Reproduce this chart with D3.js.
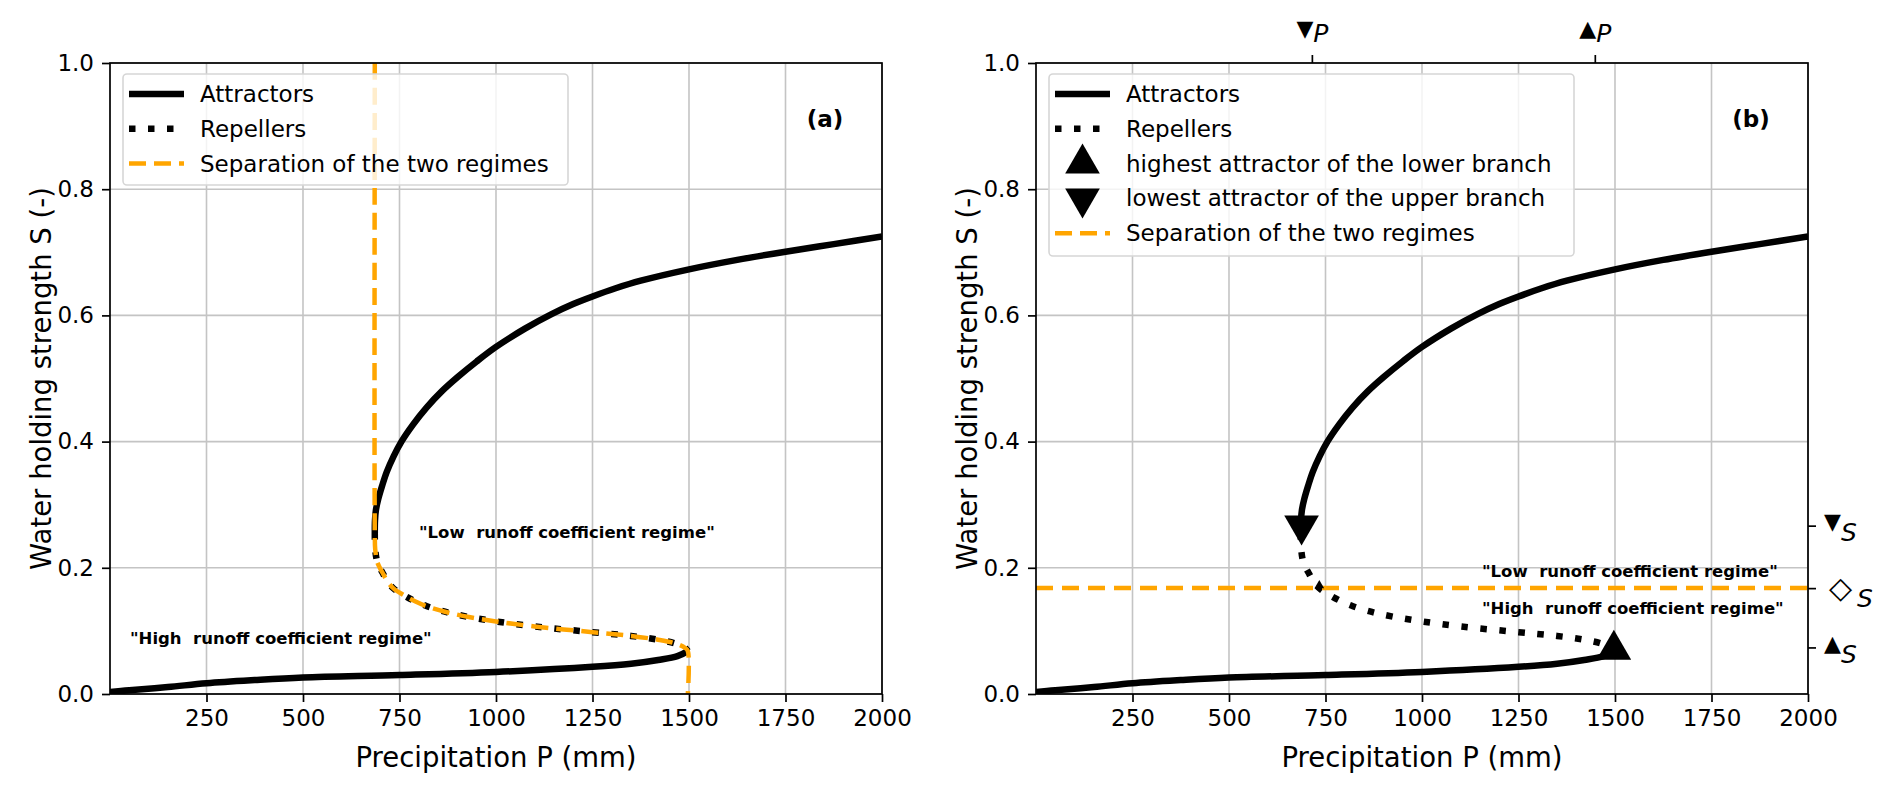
<!DOCTYPE html>
<html>
<head>
<meta charset="utf-8">
<script src="https://cdn.jsdelivr.net/npm/d3@7"></script>
<style>
  body { margin: 0; background: #fff; }
  svg text { font-family: "DejaVu Sans", sans-serif; fill: #000; }
</style>
</head>
<body>
<svg id="chart" width="1892" height="791"></svg>
<script>
// data: precipitation P (mm) vs water holding strength S (-)
var upperAttractor = [[686,0.255],[686.5,0.275],[689,0.292],[695,0.309],[705,0.33],[717,0.352],[735,0.377],[755,0.40],
                      [785,0.427],[820,0.454],[860,0.48],[900,0.502],[950,0.527],[1000,0.55],[1075,0.579],[1144,0.602],
                      [1200,0.618],[1250,0.63],[1310,0.643],[1375,0.655],[1500,0.673],[1625,0.688],[1750,0.701],
                      [1875,0.713],[2000,0.725]];
var repeller = [[686,0.255],[687,0.23],[692,0.21],[699,0.2],[708,0.19],[720,0.177],[735,0.167],[760,0.157],[790,0.147],
                [821,0.139],[870,0.13],[930,0.122],[1000,0.115],[1100,0.107],[1250,0.098],[1350,0.092],[1420,0.086],
                [1465,0.08],[1490,0.073],[1497,0.068]];
var lowerAttractor = [[0,0.003],[50,0.006],[150,0.011],[250,0.017],[375,0.022],[500,0.026],[750,0.030],[1000,0.035],
                      [1250,0.043],[1350,0.048],[1420,0.054],[1470,0.06],[1497,0.068]];
var separationA = [[686,1.0],[686,0.255]].concat(repeller.slice(1)).concat([[1497,0.0]]);
var separationB = [[0,0.168],[2000,0.168]];
var lowestUpper = [688, 0.267];
var highestLower = [1497, 0.07];
var crossing = [734, 0.172];
var xTicks = [250, 500, 750, 1000, 1250, 1500, 1750, 2000];
var yTicks = [0.0, 0.2, 0.4, 0.6, 0.8, 1.0];
var topTicks = [716, 1449];
var topTickLabels = ["\u25BC", "\u25B2"];
var rightTicks = [0.266, 0.167, 0.073];
var rightTickLabels = ["\u25BC", "\u25C7", "\u25B2"];
var legendA = ["Attractors", "Repellers", "Separation of the two regimes"];
var legendB = ["Attractors", "Repellers", "highest attractor of the lower branch",
               "lowest attractor of the upper branch", "Separation of the two regimes"];

var ORANGE = "#ffa500";
var DOTS = "6.5,12.5";
var svg = d3.select("#chart");

function panel(left, tag, isB) {
    var top = 63, bottom = 694, w = 772;
    var x = d3.scaleLinear().domain([0, 2000]).range([left, left + w]);
    var y = d3.scaleLinear().domain([0, 1]).range([bottom, top]);
    var g = svg.append("g");

    // grid
    g.selectAll(".gx").data(xTicks).enter().append("line")
        .attr("x1", d => x(d)).attr("x2", d => x(d)).attr("y1", top).attr("y2", bottom)
        .attr("stroke", "#c4c4c4").attr("stroke-width", 1.6);
    g.selectAll(".gy").data(yTicks).enter().append("line")
        .attr("x1", left).attr("x2", left + w).attr("y1", d => y(d)).attr("y2", d => y(d))
        .attr("stroke", "#c4c4c4").attr("stroke-width", 1.6);

    var line = d3.line().x(d => x(d[0])).y(d => y(d[1])).curve(d3.curveCatmullRom.alpha(0.5));
    var clip = "clip" + tag;
    svg.append("clipPath").attr("id", clip).append("rect")
        .attr("x", left).attr("y", top).attr("width", w).attr("height", bottom - top);
    var plot = g.append("g").attr("clip-path", "url(#" + clip + ")");

    plot.append("path").attr("d", line(lowerAttractor)).attr("fill", "none")
        .attr("stroke", "#000").attr("stroke-width", 6.5);
    plot.append("path").attr("d", line(upperAttractor)).attr("fill", "none")
        .attr("stroke", "#000").attr("stroke-width", 6.5);
    plot.append("path").attr("d", line(repeller)).attr("fill", "none")
        .attr("stroke", "#000").attr("stroke-width", 6.5).attr("stroke-dasharray", DOTS);

    if (!isB) {
        plot.append("path").attr("d", line(separationA)).attr("fill", "none")
            .attr("stroke", ORANGE).attr("stroke-width", 4.5).attr("stroke-dasharray", "17,8");
    } else {
        plot.append("path").attr("d", d3.line().x(d => x(d[0])).y(d => y(d[1]))(separationB))
            .attr("fill", "none").attr("stroke", ORANGE).attr("stroke-width", 4.5)
            .attr("stroke-dasharray", "17,9");
        plot.append("path").attr("d", d3.symbol().type(d3.symbolTriangle).size(520)())
            .attr("transform", "translate(" + x(lowestUpper[0]) + "," + y(lowestUpper[1]) + ") rotate(180)");
        plot.append("path").attr("d", d3.symbol().type(d3.symbolTriangle).size(520)())
            .attr("transform", "translate(" + x(highestLower[0]) + "," + y(highestLower[1]) + ")");
        plot.append("path").attr("d", d3.symbol().type(d3.symbolTriangle).size(40)())
            .attr("transform", "translate(" + x(crossing[0]) + "," + y(crossing[1]) + ")");
    }

    // spines
    g.append("rect").attr("x", left).attr("y", top).attr("width", w).attr("height", bottom - top)
        .attr("fill", "none").attr("stroke", "#000").attr("stroke-width", 1.7);

    // axes
    var ax = g.append("g").attr("transform", "translate(0," + bottom + ")")
        .call(d3.axisBottom(x).tickValues(xTicks).tickSize(8).tickPadding(8).tickFormat(d3.format("d")));
    var ay = g.append("g").attr("transform", "translate(" + left + ",0)")
        .call(d3.axisLeft(y).tickValues(yTicks).tickSize(8).tickPadding(8).tickFormat(d3.format(".1f")));
    [ax, ay].forEach(function(a) {
        a.select(".domain").remove();
        a.selectAll("line").attr("stroke", "#000").attr("stroke-width", 1.7);
        a.selectAll("text").attr("font-size", 23).attr("font-family", "DejaVu Sans");
    });

    g.append("text").attr("x", left + w / 2).attr("y", 767).attr("text-anchor", "middle")
        .attr("font-size", 27.5).text("Precipitation P (mm)");
    g.append("text").attr("transform", "translate(" + (left - 69) + "," + ((top + bottom) / 2) + ") rotate(-90)")
        .attr("text-anchor", "middle").attr("dy", "0.35em").attr("font-size", 27.5)
        .text("Water holding strength S (-)");

    g.append("text").attr("x", left + w - 57).attr("y", 127).attr("text-anchor", "middle")
        .attr("font-size", 23).attr("font-weight", "bold").text("(" + tag + ")");

    // regime labels
    var lowX = isB ? 1482 : 419, lowY = isB ? 576.5 : 537.5;
    var highX = isB ? 1482 : 130, highY = isB ? 614 : 644;
    g.append("text").attr("x", lowX).attr("y", lowY).attr("font-size", 16.5).attr("font-weight", "bold")
        .attr("xml:space", "preserve").text("\"Low  runoff coefficient regime\"");
    g.append("text").attr("x", highX).attr("y", highY).attr("font-size", 16.5).attr("font-weight", "bold")
        .attr("xml:space", "preserve").text("\"High  runoff coefficient regime\"");

    // legend
    var items = isB ? legendB : legendA;
    var lx = left + 13, ly = 74, lw = isB ? 525 : 445, lh = isB ? 182 : 111;
    var leg = g.append("g");
    leg.append("rect").attr("x", lx).attr("y", ly).attr("width", lw).attr("height", lh).attr("rx", 4)
        .attr("fill", "#fff").attr("fill-opacity", 0.8).attr("stroke", "#d6d6d6").attr("stroke-width", 1.6);
    items.forEach(function(label, i) {
        var cy = 94 + i * 34.8;
        var kind = label === "Attractors" ? "solid" : label === "Repellers" ? "dot"
                 : label.indexOf("Separation") === 0 ? "sep" : label.indexOf("highest") === 0 ? "up" : "down";
        if (kind === "solid") {
            leg.append("line").attr("x1", lx + 6).attr("x2", lx + 61).attr("y1", cy).attr("y2", cy)
                .attr("stroke", "#000").attr("stroke-width", 6.5);
        } else if (kind === "dot") {
            leg.append("line").attr("x1", lx + 6).attr("x2", lx + 61).attr("y1", cy).attr("y2", cy)
                .attr("stroke", "#000").attr("stroke-width", 6.5).attr("stroke-dasharray", DOTS);
        } else if (kind === "sep") {
            leg.append("line").attr("x1", lx + 6).attr("x2", lx + 61).attr("y1", cy).attr("y2", cy)
                .attr("stroke", ORANGE).attr("stroke-width", 4.5).attr("stroke-dasharray", "17,8");
        } else {
            leg.append("path").attr("d", d3.symbol().type(d3.symbolTriangle).size(520)())
                .attr("transform", "translate(" + (lx + 33.5) + "," + cy + ")" + (kind === "down" ? " rotate(180)" : ""));
        }
        leg.append("text").attr("x", lx + 77).attr("y", cy).attr("dy", "0.35em")
            .attr("font-size", 23).text(label);
    });

    if (isB) {
        // top ticks
        topTicks.forEach(function(p, i) {
            g.append("line").attr("x1", x(p)).attr("x2", x(p)).attr("y1", top).attr("y2", top - 8)
                .attr("stroke", "#000").attr("stroke-width", 1.7);
            var t = g.append("text").attr("x", x(p)).attr("y", 36).attr("text-anchor", "middle");
            t.append("tspan").attr("font-size", 22).text(topTickLabels[i]);
            t.append("tspan").attr("font-size", 25).attr("font-style", "italic").attr("dy", 6).text("P");
        });
        // right ticks
        rightTicks.forEach(function(s, i) {
            g.append("line").attr("x1", left + w).attr("x2", left + w + 8).attr("y1", y(s)).attr("y2", y(s))
                .attr("stroke", "#000").attr("stroke-width", 1.7);
            var diamond = i === 1;
            var t = g.append("text").attr("x", left + w + (diamond ? 21 : 16)).attr("y", y(s) + (diamond ? 9 : 3));
            t.append("tspan").attr("font-size", diamond ? 30 : 22).text(rightTickLabels[i]);
            t.append("tspan").attr("font-size", 25).attr("font-style", "italic").attr("dy", diamond ? 9 : 12)
                .attr("dx", diamond ? 5 : 0).text("S");
        });
    }
}

panel(110, "a", false);
panel(1036, "b", true);
</script>
</body>
</html>
